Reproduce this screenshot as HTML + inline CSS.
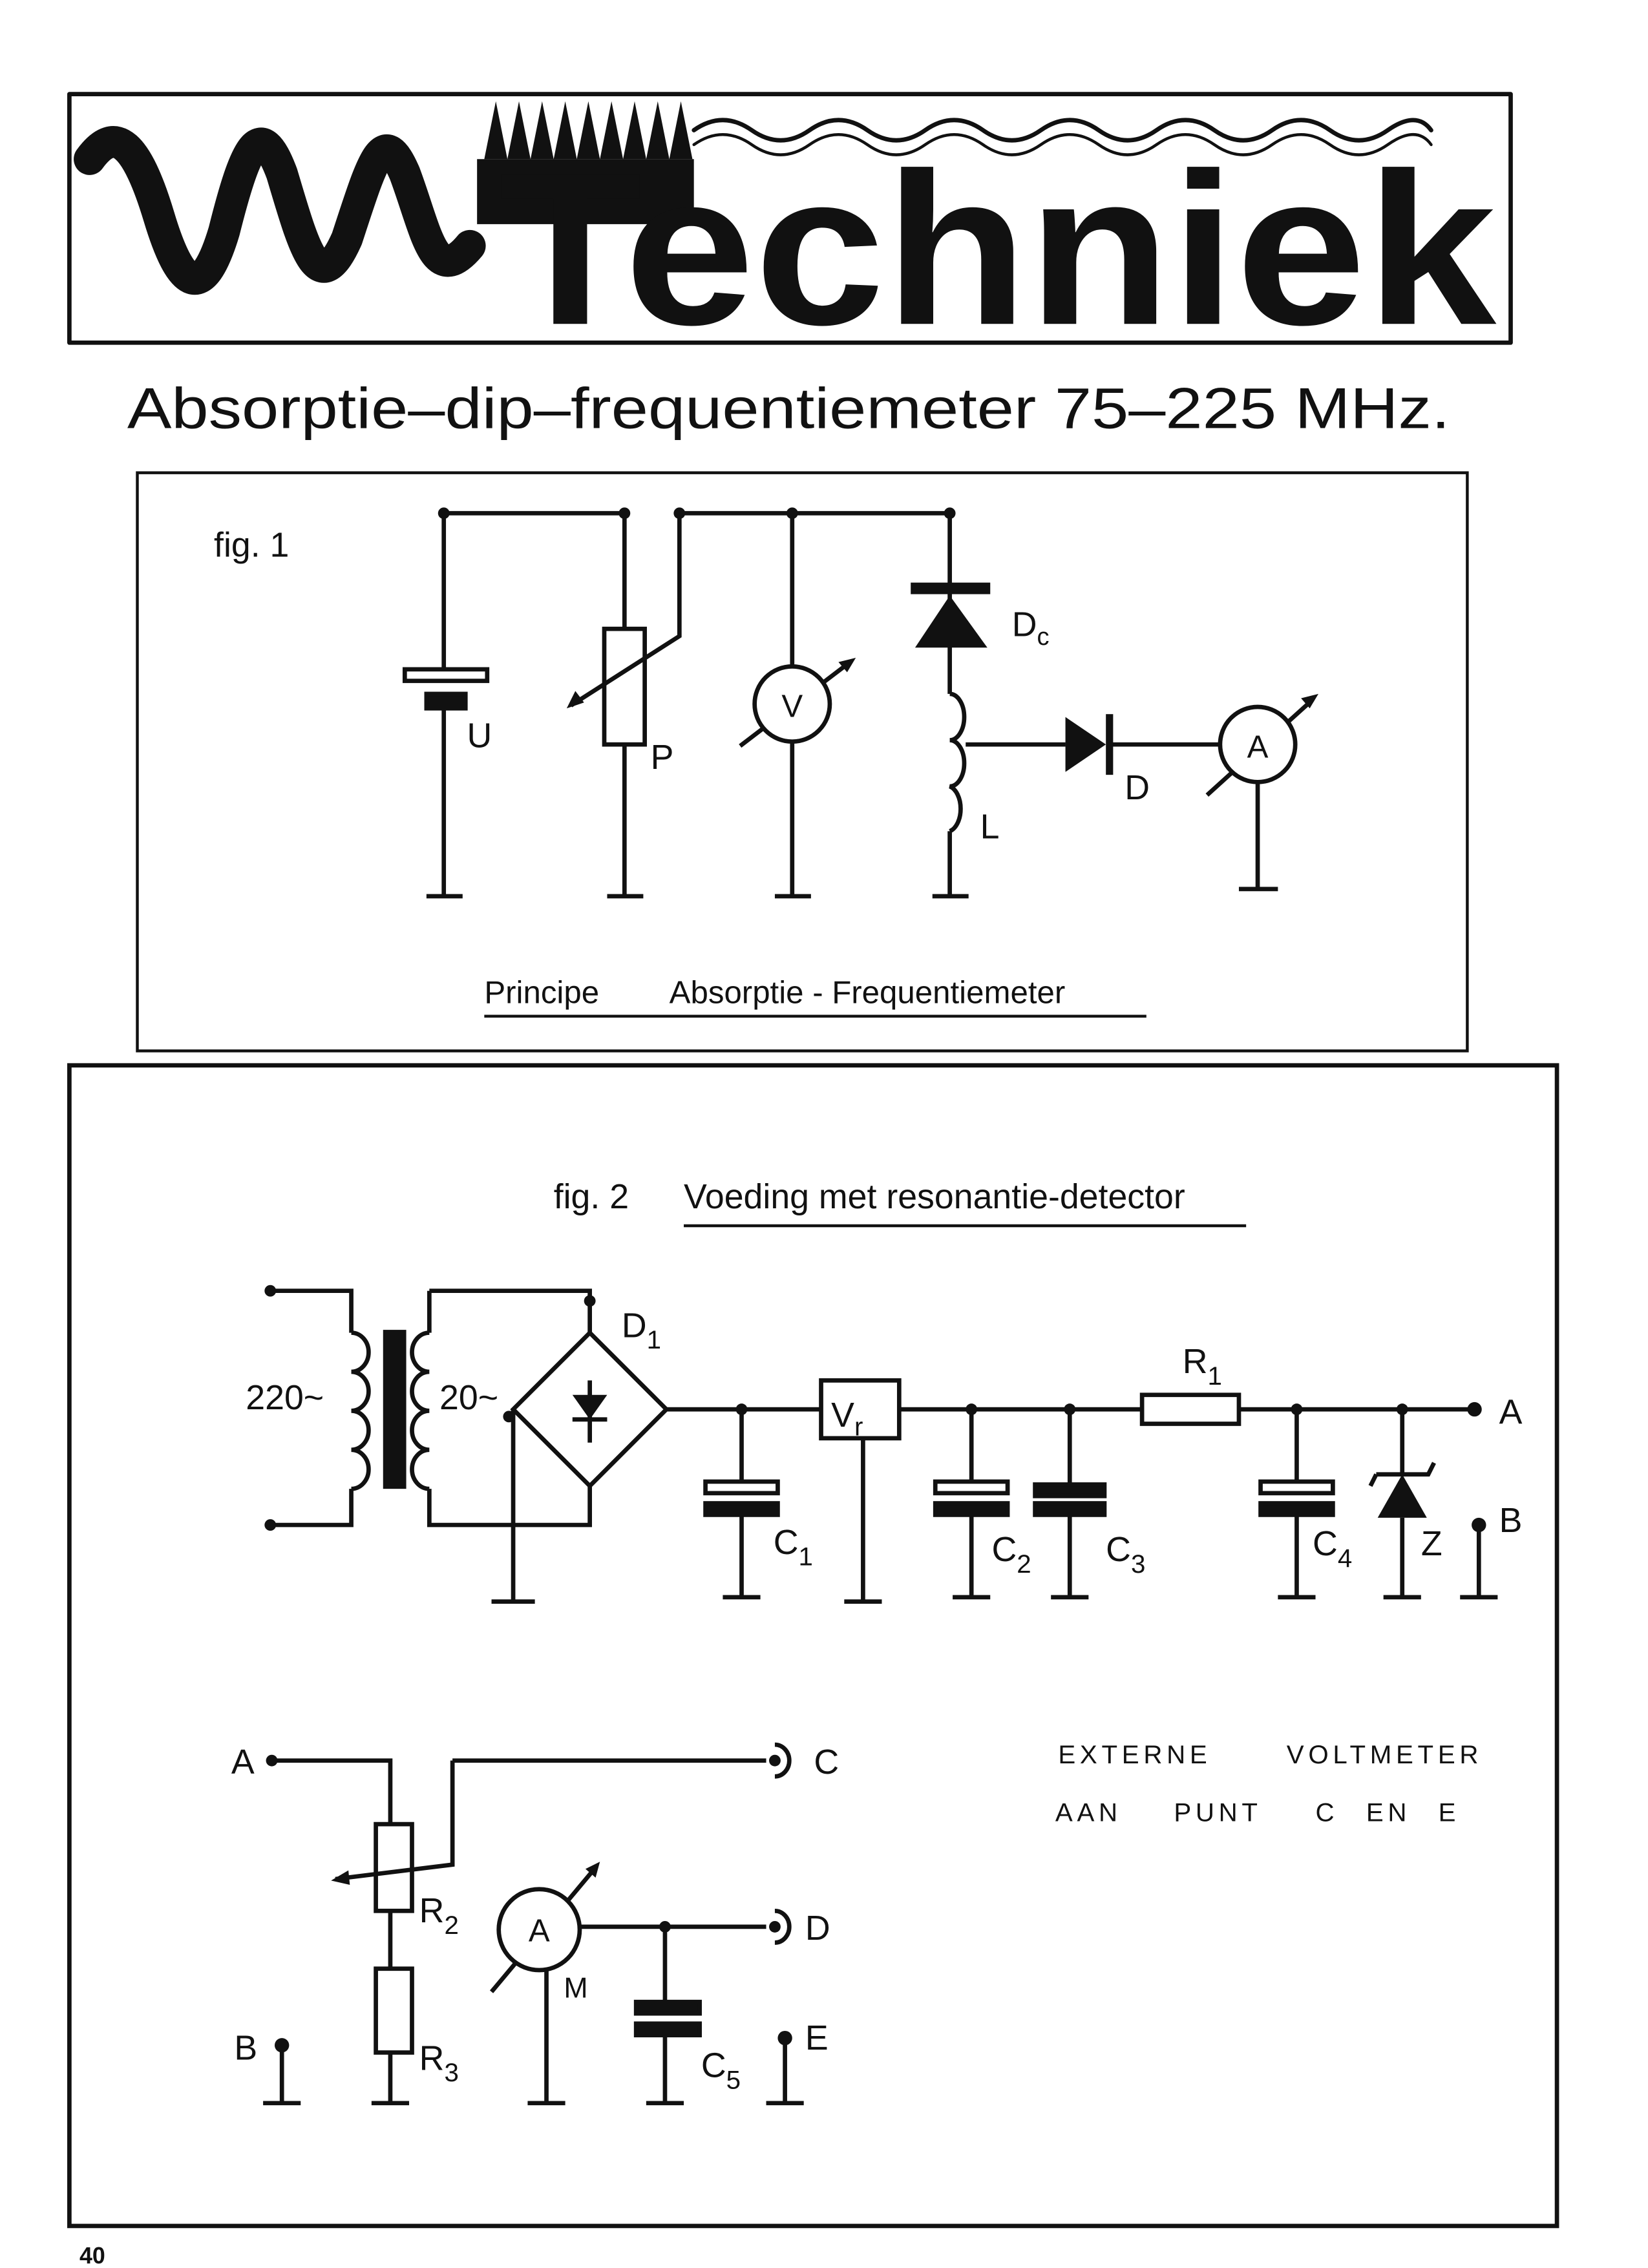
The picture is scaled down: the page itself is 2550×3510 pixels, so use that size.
<!DOCTYPE html>
<html><head><meta charset="utf-8"><style>
html,body{margin:0;padding:0;background:#fff}
svg{display:block}
text{font-family:"Liberation Sans",sans-serif;fill:#111}
</style></head><body>
<svg width="2550" height="3510" viewBox="0 0 1140 1569" xmlns="http://www.w3.org/2000/svg">
<rect width="1140" height="1569" fill="#fff"/>
<g stroke="#111" fill="none" stroke-linecap="round" stroke-linejoin="round">
<rect x="48" y="65" width="997" height="172" stroke-width="3"/>
<path d="M62 110 C80 85 95 100 110 150 C125 200 140 210 155 160 C170 100 180 80 195 120 C210 170 220 210 240 165 C258 110 265 85 280 120 C295 160 300 200 325 170" stroke-width="22"/>
<path d="M480 90 q20 -14 40 0 q20 14 40 0 q20 -14 40 0 q20 14 40 0 q20 -14 40 0 q20 14 40 0 q20 -14 40 0 q20 14 40 0 q20 -14 40 0 q20 14 40 0 q20 -14 40 0 q20 14 40 0 q20 -14 30 0" stroke-width="3"/>
<path d="M480 100 q20 -14 40 0 q20 14 40 0 q20 -14 40 0 q20 14 40 0 q20 -14 40 0 q20 14 40 0 q20 -14 40 0 q20 14 40 0 q20 -14 40 0 q20 14 40 0 q20 -14 40 0 q20 14 40 0 q20 -14 30 0" stroke-width="2"/>
</g>
<g fill="#111">
<rect x="330" y="110" width="150" height="45"/>
<path d="M335 110 l8 -40 l8 40 l8 -40 l8 40 l8 -40 l8 40 l8 -40 l8 40 l8 -40 l8 40 l8 -40 l8 40 l8 -40 l8 40 l8 -40 l8 40 l8 -40 l8 40 z"/>
</g>
<text x="345" y="224" font-size="150" font-weight="bold" textLength="690" lengthAdjust="spacingAndGlyphs">Techniek</text>
<text x="88" y="296" font-size="40" textLength="915" lengthAdjust="spacingAndGlyphs">Absorptie–dip–frequentiemeter 75–225 MHz.</text>

<g stroke="#111" fill="none" stroke-width="3">
<rect x="95" y="327" width="920" height="400" stroke-width="2"/>
<rect x="48" y="737" width="1029" height="803" stroke-width="3"/>
<path d="M307 355 H432 M470 355 H657"/>
<path d="M307 355 V463 M307 490 V620 M295 620 H320"/>
<rect x="280" y="463" width="57" height="8" fill="#fff"/>
<rect x="295" y="480" width="27" height="10" fill="#111"/>
<path d="M432 355 V435 M432 515 V620 M420 620 H445"/>
<rect x="418" y="435" width="28" height="80" fill="#fff"/>
<path d="M470 355 V440 L395 488"/>
<path d="M548 355 V461 M548 513 V620 M536 620 H561"/>
<path d="M512 516 L588 458"/>
<circle cx="548" cy="487" r="26" fill="#fff"/>
<path d="M657 355 V480 M657 575 V620 M645 620 H670"/>
<path d="M657 480 a10 16 0 0 1 0 32 a10 16 0 0 1 0 32 a10 16 0 0 1 0 31"/>
<path d="M668 515 H737 M767 515 H844"/>
<path d="M835 550 L908 484"/>
<circle cx="870" cy="515" r="26" fill="#fff"/>
<path d="M870 541 V615 M857 615 H884"/>
<path d="M335 703 H793" stroke-width="2"/>
<path d="M473 848 H862" stroke-width="2"/>
<path d="M187 893 H243 V922 M243 1030 V1055 H187"/>
<path d="M243 922 a12 13.5 0 0 1 0 27 a12 13.5 0 0 1 0 27 a12 13.5 0 0 1 0 27 a12 13.5 0 0 1 0 27"/>
<path d="M297 893 H408 V922 M297 893 V922 M297 1030 V1055 H408 V1028"/>
<path d="M297 922 a12 13.5 0 0 0 0 27 a12 13.5 0 0 0 0 27 a12 13.5 0 0 0 0 27 a12 13.5 0 0 0 0 27"/>
<path d="M408 922 L461 975 L408 1028 L355 975 Z"/>
<path d="M408 955 V998 M396 982 H420"/>
<path d="M355 975 V1108 M340 1108 H370"/>
<path d="M461 975 H568 M622 975 H790 M857 975 H1020"/>
<rect x="568" y="955" width="54" height="40"/>
<rect x="790" y="965" width="67" height="20"/>
<path d="M513 975 V1025 M513 1048 V1105 M500 1105 H526"/>
<rect x="488" y="1025" width="50" height="8" fill="#fff"/>
<rect x="488" y="1040" width="50" height="8" fill="#111"/>
<path d="M597 995 V1108 M584 1108 H610"/>
<path d="M672 975 V1025 M672 1048 V1105 M659 1105 H685"/>
<rect x="647" y="1025" width="50" height="8" fill="#fff"/>
<rect x="647" y="1040" width="50" height="8" fill="#111"/>
<path d="M740 975 V1027 M740 1048 V1105 M727 1105 H753"/>
<rect x="716" y="1027" width="48" height="8" fill="#111"/>
<rect x="716" y="1040" width="48" height="8" fill="#111"/>
<path d="M897 975 V1025 M897 1048 V1105 M884 1105 H910"/>
<rect x="872" y="1025" width="50" height="8" fill="#fff"/>
<rect x="872" y="1040" width="50" height="8" fill="#111"/>
<path d="M970 975 V1020 M970 1050 V1105 M957 1105 H983"/>
<path d="M952 1020 H988 L992 1012 M952 1020 L948 1028"/>
<path d="M1023 1055 V1105 M1010 1105 H1036"/>
<path d="M188 1218 H270 V1262 M270 1322 V1362 M270 1420 V1455 M257 1455 H283"/>
<rect x="260" y="1262" width="25" height="60" fill="#fff"/>
<rect x="260" y="1362" width="25" height="58" fill="#fff"/>
<path d="M313 1218 H530 M313 1218 V1290 L232 1300"/>
<path d="M401 1333 H530"/>
<path d="M340 1378 L412 1292"/>
<circle cx="373" cy="1335" r="28" fill="#fff"/>
<path d="M378 1363 V1455 M365 1455 H391"/>
<path d="M460 1333 V1385 M460 1408 V1455 M447 1455 H473"/>
<rect x="440" y="1385" width="44" height="8" fill="#111"/>
<rect x="440" y="1400" width="44" height="8" fill="#111"/>
<path d="M195 1415 V1455 M182 1455 H208 M543 1410 V1455 M530 1455 H556"/>
<path d="M536 1207 a10 11 0 0 1 0 22 M536 1322 a10 11 0 0 1 0 22"/>
</g>
<g fill="#111">
<circle cx="307" cy="355" r="4"/><circle cx="432" cy="355" r="4"/><circle cx="470" cy="355" r="4"/><circle cx="548" cy="355" r="4"/><circle cx="657" cy="355" r="4"/>
<path d="M392 490 l6 -12 l6 8 z"/>
<path d="M592 455 l-12 3 l6 7 z"/>
<path d="M912 480 l-12 3 l6 7 z"/>
<rect x="630" y="403" width="55" height="8"/>
<path d="M633 448 H683 L657 412 Z"/>
<path d="M737 496 V534 L765 515 Z"/><rect x="765" y="494" width="5" height="42"/>
<rect x="265" y="920" width="16" height="110"/>
<path d="M396 965 H420 L408 982 Z"/>
<path d="M953 1050 H987 L970 1020 Z"/>
<circle cx="187" cy="893" r="4"/><circle cx="187" cy="1055" r="4"/><circle cx="408" cy="900" r="4"/><circle cx="352" cy="980" r="4"/>
<circle cx="513" cy="975" r="4"/><circle cx="672" cy="975" r="4"/><circle cx="740" cy="975" r="4"/><circle cx="897" cy="975" r="4"/><circle cx="970" cy="975" r="4"/><circle cx="1020" cy="975" r="5"/><circle cx="1023" cy="1055" r="5"/>
<circle cx="188" cy="1218" r="4"/><circle cx="460" cy="1333" r="4"/><circle cx="536" cy="1218" r="4"/><circle cx="536" cy="1333" r="4"/>
<circle cx="195" cy="1415" r="5"/><circle cx="543" cy="1410" r="5"/>
<path d="M229 1301 l12 -7 l1 10 z"/>
<path d="M415 1288 l-10 5 l7 6 z"/>
</g>
<g font-size="24">
<text x="148" y="385">fig. 1</text>
<text x="323" y="517">U</text>
<text x="450" y="532">P</text>
<text x="548" y="496" font-size="22" text-anchor="middle">V</text>
<text x="700" y="440">D<tspan font-size="17" dy="6">c</tspan></text>
<text x="678" y="580">L</text>
<text x="778" y="553">D</text>
<text x="870" y="524" font-size="22" text-anchor="middle">A</text>
<text x="335" y="694" font-size="22">Principe</text>
<text x="463" y="694" font-size="22">Absorptie - Frequentiemeter</text>
<text x="383" y="836">fig. 2</text>
<text x="473" y="836">Voeding met resonantie-detector</text>
<text x="170" y="975">220~</text>
<text x="304" y="975">20~</text>
<text x="430" y="925">D<tspan font-size="18" dy="8">1</tspan></text>
<text x="575" y="987">V<tspan font-size="18" dy="6">r</tspan></text>
<text x="818" y="950">R<tspan font-size="18" dy="8">1</tspan></text>
<text x="535" y="1075">C<tspan font-size="18" dy="8">1</tspan></text>
<text x="686" y="1080">C<tspan font-size="18" dy="8">2</tspan></text>
<text x="765" y="1080">C<tspan font-size="18" dy="8">3</tspan></text>
<text x="908" y="1076">C<tspan font-size="18" dy="8">4</tspan></text>
<text x="983" y="1076">Z</text>
<text x="1037" y="985">A</text>
<text x="1037" y="1060">B</text>
<text x="160" y="1227">A</text>
<text x="563" y="1227">C</text>
<text x="290" y="1330">R<tspan font-size="18" dy="8">2</tspan></text>
<text x="290" y="1432">R<tspan font-size="18" dy="8">3</tspan></text>
<text x="373" y="1343" font-size="22" text-anchor="middle">A</text>
<text x="390" y="1382" font-size="20">M</text>
<text x="557" y="1342">D</text>
<text x="485" y="1437">C<tspan font-size="18" dy="8">5</tspan></text>
<text x="162" y="1425">B</text>
<text x="557" y="1418">E</text>
<text x="732" y="1220" font-size="18" letter-spacing="3">EXTERNE</text>
<text x="890" y="1220" font-size="18" letter-spacing="3">VOLTMETER</text>
<text x="730" y="1260" font-size="18" letter-spacing="3">AAN</text>
<text x="812" y="1260" font-size="18" letter-spacing="3">PUNT</text>
<text x="910" y="1260" font-size="18" letter-spacing="3">C</text>
<text x="945" y="1260" font-size="18" letter-spacing="3">EN</text>
<text x="995" y="1260" font-size="18" letter-spacing="3">E</text>
<text x="55" y="1566" font-size="16" font-weight="bold">40</text>
</g>
</svg>
</body></html>
